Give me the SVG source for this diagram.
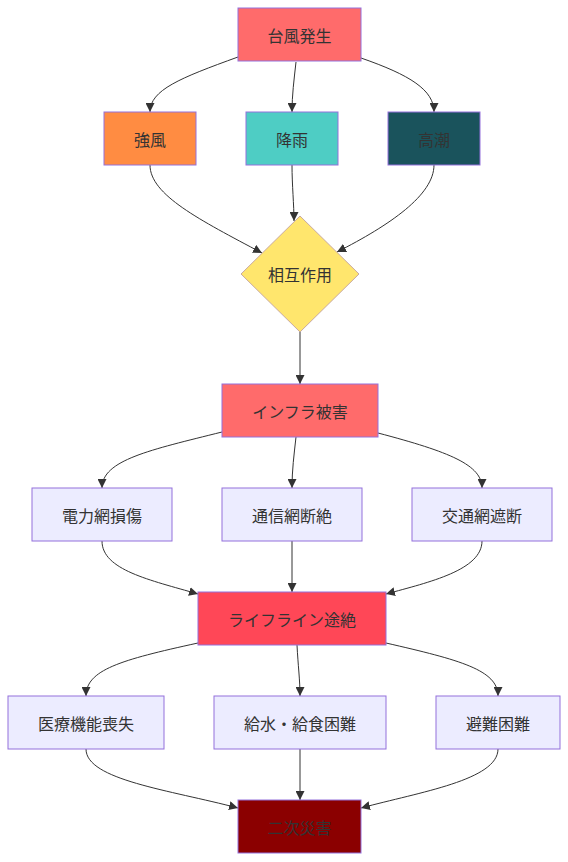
<svg xmlns="http://www.w3.org/2000/svg" width="568" height="862" viewBox="0 0 568 862">
<style>
text{font-family:"Noto Sans CJK JP","Noto Sans",sans-serif;font-size:16px;fill:#333;text-anchor:middle;dominant-baseline:central}
.n{stroke:#9370DB;stroke-width:1}
.d{fill:#ECECFF}
.e{fill:none;stroke:#333;stroke-width:1;marker-end:url(#arr)}
</style>
<defs>
<marker id="arr" viewBox="0 0 10 10" refX="10" refY="5" markerWidth="9" markerHeight="9" markerUnits="userSpaceOnUse" orient="auto">
<path d="M0,0 L10,5 L0,10 z" fill="#333"/>
</marker>
</defs>
<rect width="568" height="862" fill="#fff"/>
<g id="edges">
<path class="e" d="M238,57 C180,78 150,90 150,112"/>
<path class="e" d="M296,62 C294,80 292,95 292,112"/>
<path class="e" d="M361,58 C410,75 434,90 434,112"/>
<path class="e" d="M150,165 C150,195 200,220 262,253"/>
<path class="e" d="M292,165 C292,185 294,205 294,221"/>
<path class="e" d="M434,165 C434,195 390,225 337,252"/>
<path class="e" d="M300,332 L300,384"/>
<path class="e" d="M222,432 C150,450 102,460 102,488"/>
<path class="e" d="M296,437 C294,455 292,470 292,488"/>
<path class="e" d="M378,433 C450,452 482,465 482,488"/>
<path class="e" d="M102,541 C102,570 150,580 198,594"/>
<path class="e" d="M292,541 L292,592"/>
<path class="e" d="M482,541 C482,570 430,582 386,594"/>
<path class="e" d="M198,643 C120,660 86,670 86,696"/>
<path class="e" d="M297,645 C298,665 300,680 300,696"/>
<path class="e" d="M386,643 C460,660 498,670 498,696"/>
<path class="e" d="M86,749 C86,780 170,790 238,808"/>
<path class="e" d="M300,749 L300,800"/>
<path class="e" d="M498,749 C498,780 420,792 361,808"/>
</g>
<g id="n1"><rect class="n" x="238" y="8" width="123" height="53" fill="#ff6b6b"/><text x="299.5" y="34.5">台風発生</text></g>
<g id="n2"><rect class="n" x="104" y="112" width="92" height="53" fill="#ff8c42"/><text x="150" y="138.5">強風</text></g>
<g id="n3"><rect class="n" x="246" y="112" width="92" height="53" fill="#4ecdc4"/><text x="292" y="138.5">降雨</text></g>
<g id="n4"><rect class="n" x="388" y="112" width="92" height="53" fill="#1a535c"/><text x="434" y="138.5">高潮</text></g>
<g id="n5"><polygon class="n" points="300,216 359,274 300,332 241,274" fill="#ffe66d" style="stroke:#c9a9a0"/><text x="300" y="274">相互作用</text></g>
<g id="n6"><rect class="n" x="222" y="384" width="156" height="53" fill="#ff6b6b"/><text x="300" y="410.5">インフラ被害</text></g>
<g id="n7"><rect class="n d" x="32" y="488" width="140" height="53"/><text x="102" y="514.5">電力網損傷</text></g>
<g id="n8"><rect class="n d" x="222" y="488" width="140" height="53"/><text x="292" y="514.5">通信網断絶</text></g>
<g id="n9"><rect class="n d" x="412" y="488" width="140" height="53"/><text x="482" y="514.5">交通網遮断</text></g>
<g id="n10"><rect class="n" x="198" y="592" width="188" height="53" fill="#ff4757"/><text x="292" y="618.5">ライフライン途絶</text></g>
<g id="n11"><rect class="n d" x="8" y="696" width="156" height="53"/><text x="86" y="722.5">医療機能喪失</text></g>
<g id="n12"><rect class="n d" x="214" y="696" width="172" height="53"/><text x="300" y="722.5">給水・給食困難</text></g>
<g id="n13"><rect class="n d" x="436" y="696" width="124" height="53"/><text x="498" y="722.5">避難困難</text></g>
<g id="n14"><rect class="n" x="238" y="800" width="123" height="53" fill="#8b0000"/><text x="299.5" y="826.5">二次災害</text></g>
</svg>
